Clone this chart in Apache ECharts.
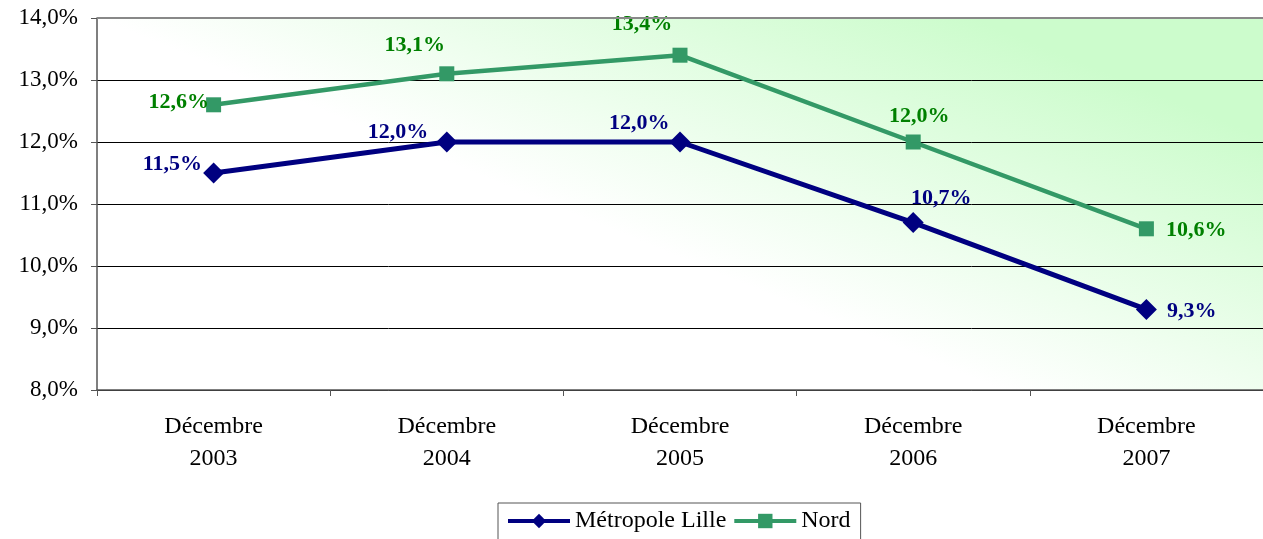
<!DOCTYPE html>
<html>
<head>
<meta charset="utf-8">
<script src="https://cdn.jsdelivr.net/npm/echarts@6/dist/echarts.min.js"></script>
<style>
  html, body { margin: 0; padding: 0; background: #ffffff; }
  #chart { width: 1263px; height: 539px; }
</style>
</head>
<body>
<div id="chart"></div>
<script>
var categories = ['Décembre\n2003', 'Décembre\n2004', 'Décembre\n2005', 'Décembre\n2006', 'Décembre\n2007'];
var metropoleValues = [11.5, 12.0, 12.0, 10.7, 9.3];
var nordValues = [12.6, 13.1, 13.4, 12.0, 10.6];

// label placement for each point (style only)
var metropoleLabels = [
  { position: 'left', offset: [5, -9] },
  { position: 'left', offset: [-2, -10] },
  { position: 'left', offset: [6, -19] },
  { position: 'top', offset: [28, 3] },
  { position: 'right', offset: [4, 2] }
];
var nordLabels = [
  { position: 'left', offset: [9, -2] },
  { position: 'top', offset: [-32, -4] },
  { position: 'top', offset: [-38, -6] },
  { position: 'top', offset: [6, -1] },
  { position: 'right', offset: [6, 2] }
];

function fmt(v) {
  return v.toFixed(1).replace('.', ',') + '%';
}

function build(values, labels, color) {
  return values.map(function (v, i) {
    return {
      value: v,
      label: {
        show: true,
        position: labels[i].position,
        offset: labels[i].offset,
        distance: 6,
        color: color,
        fontFamily: 'Liberation Serif',
        fontWeight: 'bold',
        fontSize: 22,
        formatter: function (p) { return fmt(p.value); }
      }
    };
  });
}

var myChart = echarts.init(document.getElementById('chart'));

var option = {
  animation: false,
  textStyle: { fontFamily: 'Liberation Serif' },
  grid: {
    left: 97,
    right: 0,
    top: 18,
    bottom: 149,
    show: true,
    borderWidth: 0,
    // diagonal fade: white lower-left, pale green upper-right
    backgroundColor: new echarts.graphic.LinearGradient(97, 18, 266, -393, [
      { offset: 0, color: '#ffffff' },
      { offset: 0.75, color: '#ccfccc' },
      { offset: 1, color: '#ccfccc' }
    ], true)
  },
  legend: {
    bottom: -4,
    left: 498,
    itemWidth: 62,
    itemHeight: 18,
    itemGap: 6,
    padding: [6, 10, 10, 8],
    borderColor: '#555555',
    borderWidth: 1,
    lineStyle: { width: 4 },
    textStyle: { fontFamily: 'Liberation Serif', fontSize: 24, color: '#000000' },
    data: ['Métropole Lille', 'Nord']
  },
  xAxis: {
    type: 'category',
    data: categories,
    boundaryGap: true,
    axisLine: { lineStyle: { color: '#555555', width: 1.5 } },
    axisTick: { show: true, length: 6, lineStyle: { color: '#555555' } },
    axisLabel: {
      color: '#000000',
      fontFamily: 'Liberation Serif',
      fontSize: 24,
      lineHeight: 32,
      margin: 21
    }
  },
  yAxis: {
    type: 'value',
    min: 8,
    max: 14,
    interval: 1,
    axisLine: { show: true, lineStyle: { color: '#555555', width: 1.5 } },
    axisTick: { show: true, length: 6, lineStyle: { color: '#555555' } },
    axisLabel: {
      color: '#000000',
      fontFamily: 'Liberation Serif',
      fontSize: 23,
      margin: 19,
      formatter: function (v) { return fmt(v); }
    },
    splitLine: { show: true, lineStyle: { color: '#000000', width: 1 } }
  },
  series: [
    {
      name: 'Métropole Lille',
      type: 'line',
      data: build(metropoleValues, metropoleLabels, '#000080'),
      symbol: 'diamond',
      symbolSize: 21,
      itemStyle: { color: '#000080' },
      lineStyle: { color: '#000080', width: 5 },
      z: 3
    },
    {
      name: 'Nord',
      type: 'line',
      data: build(nordValues, nordLabels, '#008000'),
      symbol: 'rect',
      symbolSize: 15,
      itemStyle: { color: '#339966' },
      lineStyle: { color: '#339966', width: 4.5 },
      z: 2
    }
  ],
  graphic: [
    {
      type: 'line',
      shape: { x1: 97, y1: 18, x2: 1263, y2: 18 },
      style: { stroke: '#888888', lineWidth: 2 },
      z: 10
    }
  ]
};

myChart.setOption(option);

window.addEventListener('resize', function () {
  myChart.resize();
});
</script>
</body>
</html>
